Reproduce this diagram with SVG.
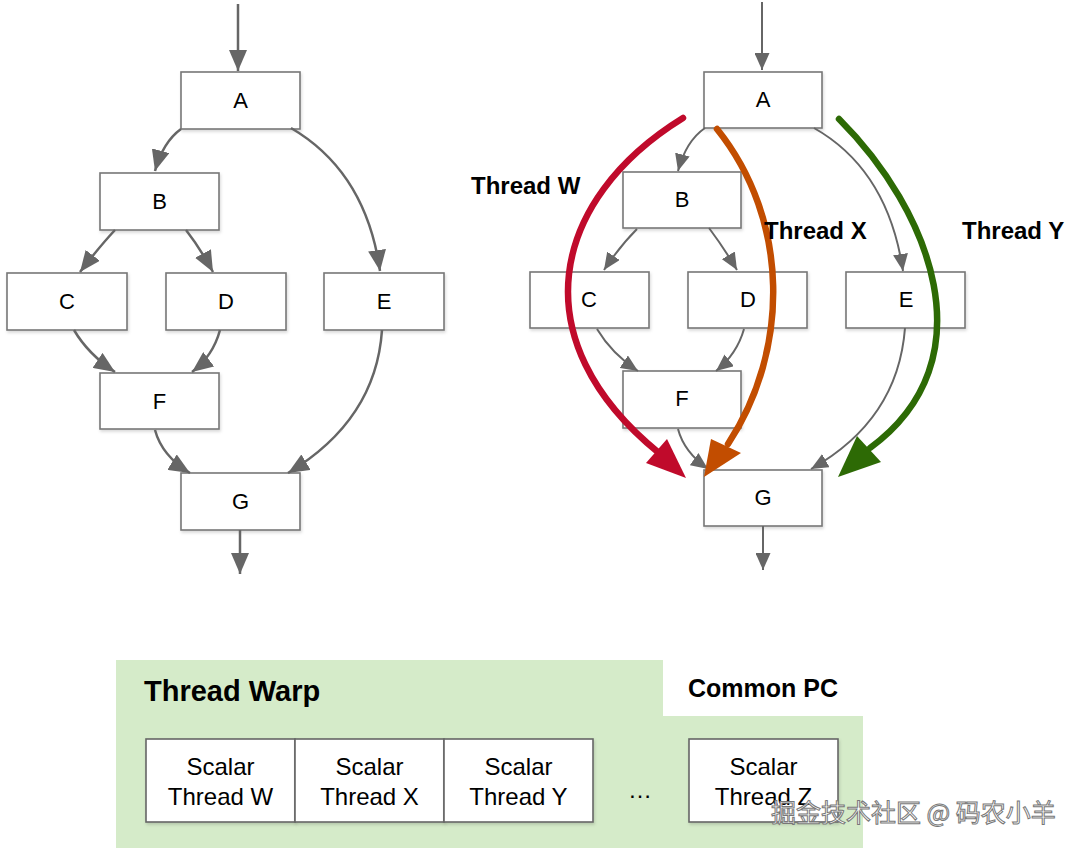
<svg xmlns="http://www.w3.org/2000/svg" width="1080" height="850" viewBox="0 0 1080 850">
<defs>
  <filter id="sh" x="-10%" y="-10%" width="130%" height="140%">
    <feDropShadow dx="1" dy="2" stdDeviation="1.5" flood-color="#000" flood-opacity="0.15"/>
  </filter>
  <marker id="arL" markerUnits="userSpaceOnUse" markerWidth="22" markerHeight="18" refX="21" refY="9" orient="auto">
    <path d="M0,0 L21,9 L0,18 z" fill="#666"/>
  </marker>
  <marker id="arR" markerUnits="userSpaceOnUse" markerWidth="18" markerHeight="15" refX="17" refY="7.5" orient="auto">
    <path d="M0,0 L17,7.5 L0,15 z" fill="#666"/>
  </marker>
</defs>
<style>
  .box { fill: #fff; stroke: #777; stroke-width: 1.6; }
  .lbl { font-family: "Liberation Sans", Arial, sans-serif; font-size: 22px; fill: #000; text-anchor: middle; }
  .eL { fill: none; stroke: #666; stroke-width: 2.5; marker-end: url(#arL); }
  .eR { fill: none; stroke: #666; stroke-width: 2; marker-end: url(#arR); }
  .th { font-family: "Liberation Sans", Arial, sans-serif; font-size: 24px; font-weight: bold; fill: #000; }
  .sc { font-family: "Liberation Sans", Arial, sans-serif; font-size: 24px; fill: #000; text-anchor: middle; }
  .sbox { fill: #fff; stroke: #666; stroke-width: 1.6; }
</style>

<!-- Left graph -->
<g id="left-graph">
  <g id="L-A"><rect class="box" filter="url(#sh)" x="181" y="72" width="119" height="57"/><text class="lbl" x="240.5" y="108">A</text></g>
  <g id="L-B"><rect class="box" filter="url(#sh)" x="100" y="173" width="119" height="57"/><text class="lbl" x="159.5" y="209">B</text></g>
  <g id="L-C"><rect class="box" filter="url(#sh)" x="7" y="273" width="120" height="57"/><text class="lbl" x="67" y="309">C</text></g>
  <g id="L-D"><rect class="box" filter="url(#sh)" x="166" y="273" width="120" height="57"/><text class="lbl" x="226" y="309">D</text></g>
  <g id="L-E"><rect class="box" filter="url(#sh)" x="324" y="273" width="120" height="57"/><text class="lbl" x="384" y="309">E</text></g>
  <g id="L-F"><rect class="box" filter="url(#sh)" x="100" y="373" width="119" height="56"/><text class="lbl" x="159.5" y="409">F</text></g>
  <g id="L-G"><rect class="box" filter="url(#sh)" x="181" y="473" width="119" height="57"/><text class="lbl" x="240.5" y="509">G</text></g>
</g>

<!-- Right graph -->
<g id="right-graph">
  <g id="R-A"><rect class="box" filter="url(#sh)" x="704" y="72" width="118" height="56"/><text class="lbl" x="763" y="107">A</text></g>
  <g id="R-B"><rect class="box" filter="url(#sh)" x="623" y="172" width="118" height="56"/><text class="lbl" x="682" y="207">B</text></g>
  <g id="R-C"><rect class="box" filter="url(#sh)" x="530" y="272" width="119" height="56"/><text class="lbl" x="589" y="307">C</text></g>
  <g id="R-D"><rect class="box" filter="url(#sh)" x="688" y="272" width="119" height="56"/><text class="lbl" x="748" y="307">D</text></g>
  <g id="R-E"><rect class="box" filter="url(#sh)" x="846" y="272" width="119" height="56"/><text class="lbl" x="906" y="307">E</text></g>
  <g id="R-F"><rect class="box" filter="url(#sh)" x="623" y="371" width="118" height="57"/><text class="lbl" x="682" y="406">F</text></g>
  <g id="R-G"><rect class="box" filter="url(#sh)" x="704" y="470" width="118" height="56"/><text class="lbl" x="763" y="505">G</text></g>
</g>

<!-- Connectors -->
<g id="connectors">
  <!-- left -->
  <path class="eL" d="M238,4 L238,71"/>
  <path class="eL" d="M181,129 Q163,142 155,171"/>
  <path class="eL" d="M291,128 Q366,172 380,271"/>
  <path class="eL" d="M115,230 Q100,246 80,272"/>
  <path class="eL" d="M186,230 Q200,248 213,272"/>
  <path class="eL" d="M74,330 Q88,354 115,372"/>
  <path class="eL" d="M220,330 Q213,356 192,372"/>
  <path class="eL" d="M382,330 Q376,420 288,473"/>
  <path class="eL" d="M155,430 Q162,456 190,473"/>
  <path class="eL" d="M240,530 L240,574"/>
  <!-- right gray -->
  <path class="eR" d="M762,2 L762,70"/>
  <path class="eR" d="M705,128 Q686,141 678,171"/>
  <path class="eR" d="M814,128 Q888,170 903,271"/>
  <path class="eR" d="M637,229 Q620,246 604,270"/>
  <path class="eR" d="M709,228 Q724,248 737,270"/>
  <path class="eR" d="M597,329 Q612,354 638,371"/>
  <path class="eR" d="M744,329 Q737,354 716,371"/>
  <path class="eR" d="M905,328 Q898,420 811,469"/>
  <path class="eR" d="M678,429 Q684,452 708,469"/>
  <path class="eR" d="M763,526 L763,570"/>
  <!-- thread paths -->
  <g id="thread-W">
    <path d="M683,118 C550,200 520,340 659,453" fill="none" stroke="#c00a2b" stroke-width="6.5" stroke-linecap="round"/>
    <polygon points="686,478 646,463 667,439" fill="#c00a2b"/>
  </g>
  <g id="thread-X">
    <path d="M717,129 C790,220 790,350 728,444" fill="none" stroke="#c24d00" stroke-width="6.5" stroke-linecap="round"/>
    <polygon points="704,477 711,439 741,453" fill="#c24d00"/>
  </g>
  <g id="thread-Y">
    <path d="M839,119 C930,210 990,360 870,448" fill="none" stroke="#2d6a05" stroke-width="6.5" stroke-linecap="round"/>
    <polygon points="838,477 857,436 881,462" fill="#2d6a05"/>
  </g>
</g>

<g id="thread-labels">
  <text class="th" x="471" y="194">Thread W</text>
  <text class="th" x="764" y="239">Thread X</text>
  <text class="th" x="962" y="239">Thread Y</text>
</g>

<!-- Thread warp -->
<g id="warp">
  <rect x="116" y="660" width="747" height="188" fill="#d5ebc9"/>
  <text x="144" y="701" font-family="Liberation Sans, Arial, sans-serif" font-size="29" font-weight="bold" fill="#000">Thread Warp</text>
</g>
<g id="common-pc">
  <rect x="663" y="660" width="200" height="56" fill="#fff"/>
  <text x="763" y="697" font-family="Liberation Sans, Arial, sans-serif" font-size="25" font-weight="bold" fill="#000" text-anchor="middle">Common PC</text>
</g>
<g id="scalar-W"><rect class="sbox" filter="url(#sh)" x="146" y="739" width="149" height="83"/><text class="sc" x="220.5" y="775">Scalar</text><text class="sc" x="220.5" y="805">Thread W</text></g>
<g id="scalar-X"><rect class="sbox" filter="url(#sh)" x="295" y="739" width="149" height="83"/><text class="sc" x="369.5" y="775">Scalar</text><text class="sc" x="369.5" y="805">Thread X</text></g>
<g id="scalar-Y"><rect class="sbox" filter="url(#sh)" x="444" y="739" width="149" height="83"/><text class="sc" x="518.5" y="775">Scalar</text><text class="sc" x="518.5" y="805">Thread Y</text></g>
<text class="sc" x="640" y="798">…</text>
<g id="scalar-Z"><rect class="sbox" filter="url(#sh)" x="689" y="739" width="149" height="83"/><text class="sc" x="763.5" y="775">Scalar</text><text class="sc" x="763.5" y="805">Thread Z</text></g>

<text x="771" y="822" font-family="Noto Sans CJK SC, sans-serif" font-size="25" fill="#fff" stroke="#777" stroke-width="1">掘金技术社区 @ 码农小羊</text>
</svg>
